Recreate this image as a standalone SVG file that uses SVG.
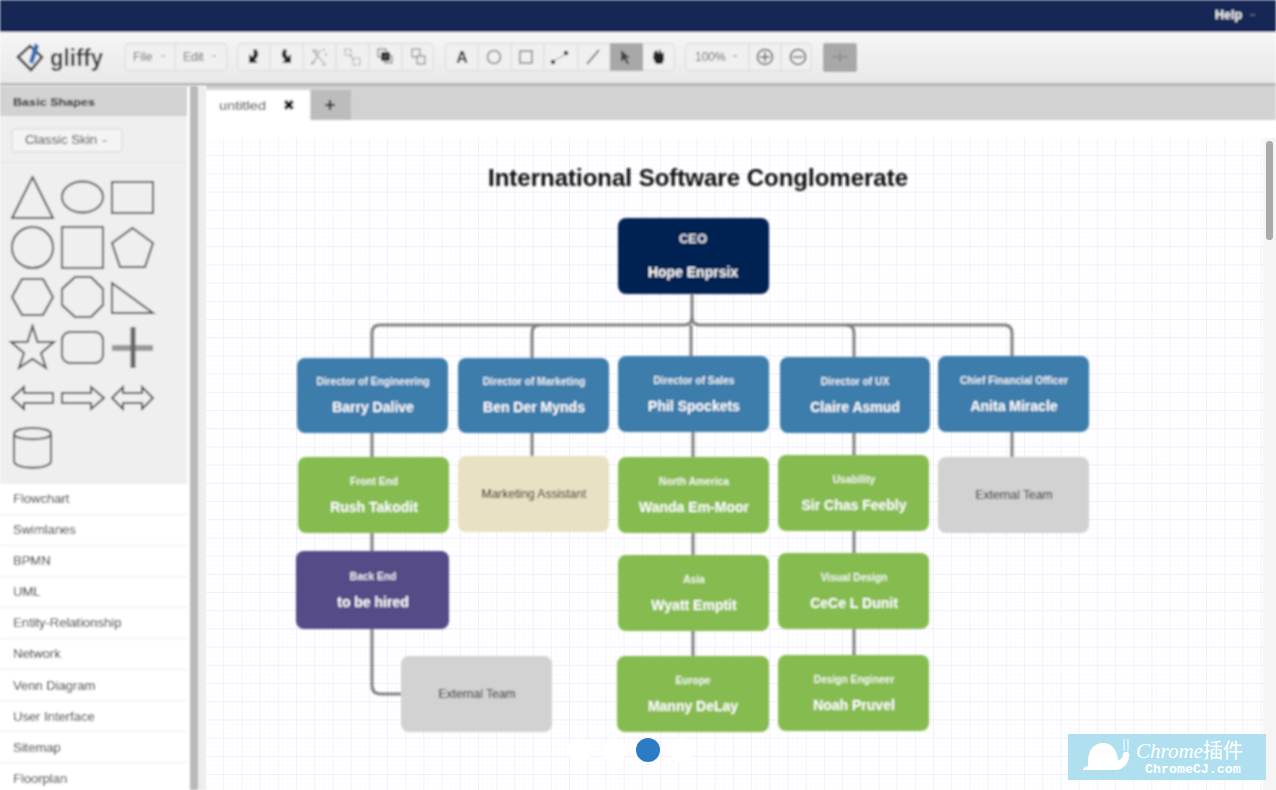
<svg xmlns="http://www.w3.org/2000/svg" width="1276" height="790" viewBox="0 0 1276 790">
<style>
text{font-family:"Liberation Sans",Arial,sans-serif}
.m{text-anchor:middle}
.nt{fill:#fff;font-size:10.2px;text-anchor:middle;font-weight:bold;fill-opacity:.9}
.nn{fill:#fff;font-size:14px;text-anchor:middle;font-weight:bold}
.dk{fill:#111;font-size:12.100px;text-anchor:middle}
.blue{fill:#3d7dac}.green{fill:#86bc4f}.grey{fill:#d2d2d2}
.shape{fill:none;stroke:#444;stroke-width:1.900}
.item{fill:#111;font-size:13px}
.sep{stroke:#e8e8e8;stroke-width:1}
.conn{fill:none;stroke:#808080;stroke-width:3}
.btn{fill:#f0f0f0;stroke:#d8d8d8;stroke-width:1}
.div{stroke:#d6d6d6;stroke-width:1}
.ic{fill:none;stroke:#555;stroke-width:1.600}
.icf{fill:#222}
.tb{fill:#666;font-size:12px}
</style>
<defs>
<pattern id="minor" width="4.550" height="4.550" patternUnits="userSpaceOnUse" x="206" y="138"><path d="M4.550 0V4.550H0" fill="none" stroke="#f7f6ff" stroke-width=".7"/></pattern>
<pattern id="major" width="18.200" height="18.200" patternUnits="userSpaceOnUse" x="206" y="138"><path d="M18.200 0V18.200H0" fill="none" stroke="#ebe9ff" stroke-width="1.200"/></pattern>
<linearGradient id="tbg" x1="0" y1="0" x2="0" y2="1"><stop offset="0" stop-color="#f6f6f6"/><stop offset="1" stop-color="#e8e8e8"/></linearGradient>
<filter id="soft" x="0" y="0" width="1276" height="790" filterUnits="userSpaceOnUse"><feGaussianBlur stdDeviation="0.8"/></filter>
</defs>
<rect width="1276" height="790" fill="#fff"/>
<g id="canvas">
<rect x="206" y="138" width="1070" height="652" fill="url(#minor)"/>
<rect x="206" y="138" width="1070" height="652" fill="url(#major)"/>
<rect x="1263" y="138" width="13" height="652" fill="#f5f5f5"/>
<rect x="1266" y="141" width="7" height="99" rx="3.500" fill="#a9a9a9"/>
</g>
<g id="chrome" filter="url(#soft)">
<rect width="1276" height="31" fill="#142855"/>
<rect y="30" width="1276" height="2" fill="#1a1a66"/>
<text x="1215" y="19" fill="#fff" font-size="12.500" font-weight="bold">Help</text>
<path d="M1250 15h5" stroke="#667" stroke-width="1.500"/>
<rect y="32" width="1276" height="52" fill="url(#tbg)"/>
<rect y="83" width="1276" height="3" fill="#b5b5b5"/>
<path d="M18 57L30 46L42 57L31 70Z" fill="none" stroke="#333" stroke-width="2.600"/>
<path d="M29 62L35 43L39 46L33 64Z" fill="#2f6db5"/>
<text x="50" y="66" fill="#333" font-size="24" font-weight="bold" textLength="53" lengthAdjust="spacingAndGlyphs">gliffy</text>
<rect class="btn" x="125" y="43.500" width="102" height="27" rx="4"/><path class="div" d="M175 44v26"/>
<text class="tb" x="133" y="61">File</text><text class="tb" x="183" y="61">Edit</text>
<path d="M161 56h4M212 56h4" stroke="#999" stroke-width="1.200"/>
<rect class="btn" x="237.500" y="43.500" width="196" height="27" rx="4"/>
<path class="div" d="M270 44v26M303 44v26M336 44v26M369 44v26M402 44v26"/>
<path d="M256 49Q261 55 255 60L258 63H249V54L252 57Q255 54 253 50Z" class="icf"/>
<path d="M284 49Q279 55 285 60L282 63H291V54L288 57Q285 54 287 50Z" class="icf"/>
<path d="M312 50h4v3M325 50h-3M312 65v-4M326 65h-4M326 53v3M320 50l-7 14M313 51l12 13" fill="none" stroke="#999" stroke-width="1.100"/>
<path d="M345 49h6v6h-6ZM353 58h7v7h-7ZM350 56l4 3" fill="none" stroke="#888" stroke-width="1.100" stroke-dasharray="2 1.500"/>
<rect x="381" y="52" width="9" height="9" class="icf"/><rect x="378" y="49" width="8" height="8" fill="none" stroke="#666"/><rect x="385" y="56" width="7" height="7" fill="none" stroke="#666"/>
<rect x="412" y="49" width="8" height="8" fill="none" stroke="#777"/><rect x="417" y="56" width="8" height="8" fill="#eee" stroke="#777"/>
<rect class="btn" x="445.500" y="43.500" width="229" height="27" rx="4"/>
<path class="div" d="M478 44v26M511 44v26M544 44v26M578 44v26M610 44v26"/>
<text x="462" y="63" class="m" font-size="16" font-weight="bold" fill="#222">A</text>
<circle cx="494" cy="57" r="6.500" fill="none" stroke="#888" stroke-width="1.600"/>
<rect x="520" y="51" width="12" height="12" fill="none" stroke="#888" stroke-width="1.600"/>
<path d="M552 62l14 -8" stroke="#999" stroke-width="1"/><circle cx="553" cy="62" r="2.200" class="icf"/><circle cx="566" cy="53" r="2.200" class="icf"/>
<path d="M587 64l12 -14" stroke="#555" stroke-width="1.600"/>
<rect x="610" y="43" width="33" height="28" fill="#a8a8a8"/>
<path d="M621 50v12l3 -3l3 5l2 -1l-3 -5h4Z" fill="#444"/>
<path d="M654 52l3 -2l1 4l2 -5l2 5l2 -2l0 8l-2 4h-6l-3 -6Z" fill="#222"/>
<rect class="btn" x="685.500" y="43.500" width="126" height="27" rx="4"/>
<path class="div" d="M749 44v26M781 44v26"/>
<text class="tb" x="695" y="61">100%</text>
<path d="M733 56h4" stroke="#999" stroke-width="1.200"/>
<circle cx="765" cy="57" r="7.500" class="ic"/><path d="M760 57h10M765 52v10" stroke="#555" stroke-width="1.400"/>
<circle cx="798" cy="57" r="7.500" class="ic"/><path d="M793 57h10" stroke="#555" stroke-width="1.400"/>
<rect x="823" y="43" width="34" height="29" rx="2" fill="#a8a8a8"/>
<path d="M832 57h16M840 52v10" stroke="#8c8c8c" stroke-width="1.400"/>
<rect x="206" y="86" width="1070" height="34" fill="#d2d2d2"/>
<rect x="206" y="90" width="104" height="30" fill="#fff"/>
<rect x="311" y="90" width="40" height="30" fill="#bcbcbc"/>
<text x="219" y="110" fill="#222" font-size="12.500" textLength="47" lengthAdjust="spacingAndGlyphs">untitled</text>
<text x="289" y="110" class="m" font-size="14" font-weight="bold" fill="#111">✖</text>
<path d="M325 105h10M330 100v10" stroke="#222" stroke-width="2.200"/>
</g>
<g id="sidebar" filter="url(#soft)">
<rect y="86" width="187" height="398" fill="#efefef"/>
<rect y="86" width="187" height="30" fill="#d2d2d2"/>
<rect x="190" y="86" width="8" height="704" fill="#b8b8b8"/>
<rect x="198" y="86" width="8" height="704" fill="#ededed"/>
<text x="13" y="106" fill="#111" font-size="11.500" font-weight="bold" textLength="82" lengthAdjust="spacingAndGlyphs">Basic Shapes</text>
<rect x="12" y="129" width="110" height="23" rx="3" fill="#f4f4f4" stroke="#d4d4d4"/>
<text x="25" y="144" fill="#333" font-size="12" textLength="72" lengthAdjust="spacingAndGlyphs">Classic Skin</text><path d="M102 141h5" stroke="#999" stroke-width="1.200"/>
<path d="M0 162H187" stroke="#e2e2e2"/>
<path class="shape" d="M32.500 177L53 218H12Z"/>
<ellipse class="shape" cx="82.500" cy="197" rx="20.500" ry="15.500"/>
<rect class="shape" x="112" y="182" width="41" height="31"/>
<circle class="shape" cx="32.500" cy="247.500" r="20.500"/>
<rect class="shape" x="62" y="227" width="41" height="41"/>
<path class="shape" d="M132.500 228L153 243L145 267H120L112 243Z"/>
<path class="shape" d="M12 297L22 279H43L53 297L43 315H22Z"/>
<path class="shape" d="M75 277H91L103 289V305L91 317H75L62 305V289Z"/>
<path class="shape" d="M112 283L153 313H112Z"/>
<path class="shape" d="M32.500 326L37.500 342H54L41 353L46 368L32.500 359L19 368L24 353L11 342H27.500Z"/>
<rect class="shape" x="62" y="332" width="41" height="31" rx="8"/>
<path d="M112 348H153" stroke="#999" stroke-width="6"/><path d="M133 327V368" stroke="#666" stroke-width="5"/>
<path class="shape" d="M12 398L24 387V393H53V403H24V409Z"/>
<path class="shape" d="M62 393H91V387L104 398L91 409V403H62Z"/>
<path class="shape" d="M112 398L123 387V393H142V387L153 398L142 409V403H123V409Z"/>
<path class="shape" d="M14 434C14 426 51 426 51 434V461C51 470 14 470 14 461ZM14 434C14 441 51 441 51 434"/>
<rect y="484" width="187" height="306" fill="#fff"/>
<path class="sep" d="M0 514.500H187M0 545.500H187M0 576.500H187M0 607.500H187M0 638.500H187M0 669.500H187M0 700.500H187M0 731.500H187M0 762.500H187"/>
<text class="item" x="13" y="503">Flowchart</text>
<text class="item" x="13" y="534">Swimlanes</text>
<text class="item" x="13" y="565">BPMN</text>
<text class="item" x="13" y="596">UML</text>
<text class="item" x="13" y="627">Entity-Relationship</text>
<text class="item" x="13" y="658">Network</text>
<text class="item" x="13" y="690">Venn Diagram</text>
<text class="item" x="13" y="721">User Interface</text>
<text class="item" x="13" y="752">Sitemap</text>
<text class="item" x="13" y="783">Floorplan</text>
</g>
<g id="diagram" filter="url(#soft)">
<text id="title" x="698" y="186" class="m" font-size="24" font-weight="bold" fill="#111">International Software Conglomerate</text>
<g id="connectors">
<path class="conn" d="M692 294V317Q692 325 684 325H380Q372 325 372 333V358"/>
<path class="conn" d="M532 358V333Q532 325 540 325"/>
<path class="conn" d="M691 325V356"/>
<path class="conn" d="M692 317Q692 325 700 325H846Q854 325 854 333V357"/>
<path class="conn" d="M846 325H1004Q1012 325 1012 333V356"/>
<path class="conn" d="M372 433V457M372 533V551M372 629V685Q372 694 381 694H401"/>
<path class="conn" d="M532 433V456"/>
<path class="conn" d="M693 432V457M693 533V555M693 631V656"/>
<path class="conn" d="M854 433V455M854 531V553M854 629V655"/>
<path class="conn" d="M1012 432V457"/>
</g>
<g id="ceo"><rect x="618" y="218" width="151" height="76" rx="8" fill="#012252"/><text class="nt" x="693" y="243" style="font-size:13px">CEO</text><text class="nn" x="693" y="277">Hope Enprsix</text></g>
<g id="d-eng"><rect class="blue" x="297" y="358" width="151" height="75" rx="8"/><text class="nt" x="373" y="385">Director of Engineering</text><text class="nn" x="373" y="412">Barry Dalive</text></g>
<g id="d-mkt"><rect class="blue" x="458" y="358" width="151" height="75" rx="8"/><text class="nt" x="534" y="385">Director of Marketing</text><text class="nn" x="534" y="412">Ben Der Mynds</text></g>
<g id="d-sales"><rect class="blue" x="618" y="356" width="151" height="76" rx="8"/><text class="nt" x="694" y="384">Director of Sales</text><text class="nn" x="694" y="411">Phil Spockets</text></g>
<g id="d-ux"><rect class="blue" x="780" y="357" width="150" height="76" rx="8"/><text class="nt" x="855" y="385">Director of UX</text><text class="nn" x="855" y="412">Claire Asmud</text></g>
<g id="cfo"><rect class="blue" x="938" y="356" width="151" height="76" rx="8"/><text class="nt" x="1014" y="384">Chief Financial Officer</text><text class="nn" x="1014" y="411">Anita Miracle</text></g>
<g id="frontend"><rect class="green" x="298" y="457" width="151" height="76" rx="8"/><text class="nt" x="374" y="485">Front End</text><text class="nn" x="374" y="512">Rush Takodit</text></g>
<g id="mkt-asst"><rect x="458" y="456" width="151" height="76" rx="8" fill="#e8e1c3"/><text class="dk" x="534" y="498">Marketing Assistant</text></g>
<g id="na"><rect class="green" x="618" y="457" width="151" height="76" rx="8"/><text class="nt" x="694" y="485">North America</text><text class="nn" x="694" y="512">Wanda Em-Moor</text></g>
<g id="usability"><rect class="green" x="778" y="455" width="151" height="76" rx="8"/><text class="nt" x="854" y="483">Usability</text><text class="nn" x="854" y="510">Sir Chas Feebly</text></g>
<g id="ext-cfo"><rect class="grey" x="938" y="457" width="151" height="76" rx="8"/><text class="dk" x="1014" y="499">External Team</text></g>
<g id="backend"><rect x="296" y="551" width="153" height="78" rx="8" fill="#544b87"/><text class="nt" x="373" y="580">Back End</text><text class="nn" x="373" y="607">to be hired</text></g>
<g id="asia"><rect class="green" x="618" y="555" width="151" height="76" rx="8"/><text class="nt" x="694" y="583">Asia</text><text class="nn" x="694" y="610">Wyatt Emptit</text></g>
<g id="visual"><rect class="green" x="778" y="553" width="151" height="76" rx="8"/><text class="nt" x="854" y="581">Visual Design</text><text class="nn" x="854" y="608">CeCe L Dunit</text></g>
<g id="ext-eng"><rect class="grey" x="401" y="656" width="151" height="76" rx="8"/><text class="dk" x="477" y="698">External Team</text></g>
<g id="europe"><rect class="green" x="617" y="656" width="152" height="76" rx="8"/><text class="nt" x="693" y="684">Europe</text><text class="nn" x="693" y="711">Manny DeLay</text></g>
<g id="design-eng"><rect class="green" x="778" y="655" width="151" height="76" rx="8"/><text class="nt" x="854" y="683">Design Engineer</text><text class="nn" x="854" y="710">Noah Pruvel</text></g>
</g>
<g id="pager">
<circle cx="580" cy="750" r="12" fill="#fff"/><circle cx="614" cy="750" r="12" fill="#fff"/>
<circle cx="648" cy="750" r="12" fill="#2b7bc5"/><circle cx="682" cy="750" r="12" fill="#fff"/>
</g>
<g id="watermark">
<rect x="1068" y="734" width="198" height="46" fill="#b0dff0"/>
<path d="M1083 770Q1083 767 1088 766C1087 750 1094 743 1103 743C1112 743 1117 750 1118 760C1121 760 1123 757 1123 754C1123 751 1131 750 1129 757C1128 764 1123 770 1115 770Z" fill="#fff"/>
<path d="M1124 751V739M1128 751V739" stroke="#fff" stroke-width="1"/>
<text x="1136" y="758" fill="#fff" font-size="21" font-style="italic" style="font-family:'Liberation Serif','Noto Sans CJK SC',serif">Chrome<tspan font-style="normal" font-size="20" style="font-family:'Noto Sans CJK SC',sans-serif">插件</tspan></text>
<text x="1145" y="773" fill="#fff" font-size="13.300" font-weight="bold" style="font-family:'Liberation Mono',monospace">ChromeCJ.com</text>
</g>
</svg>
